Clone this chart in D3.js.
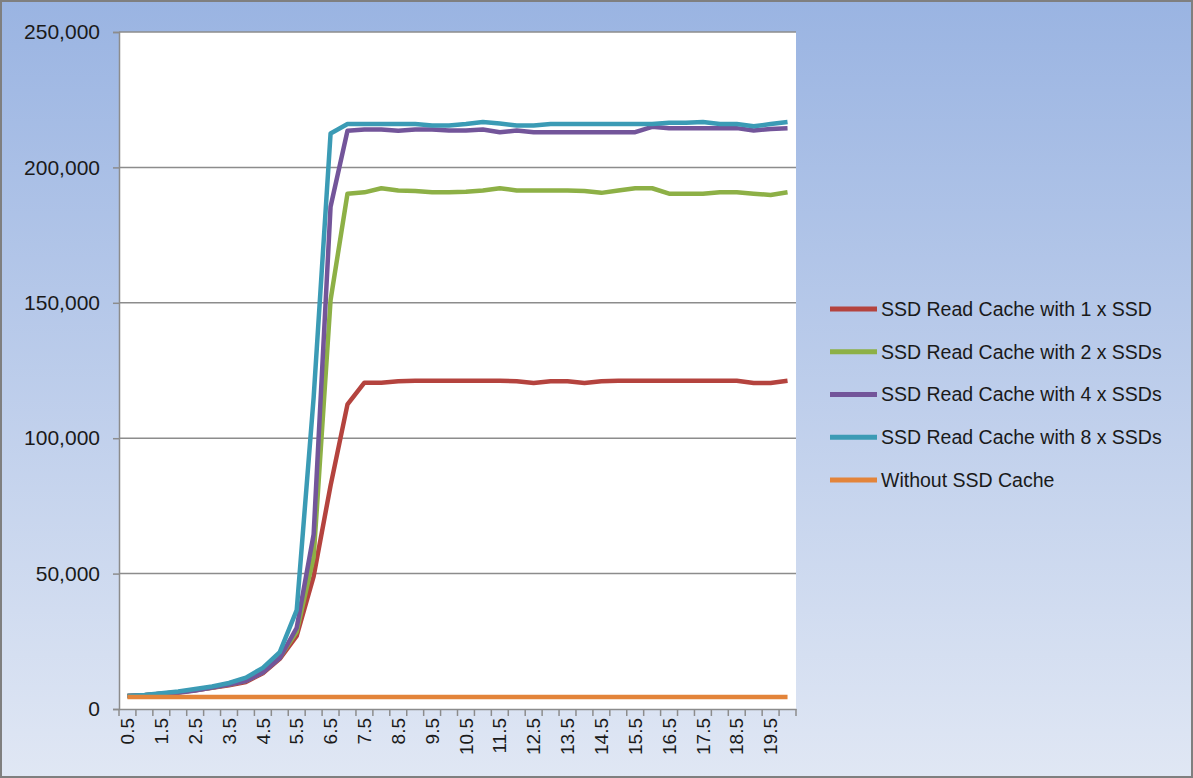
<!DOCTYPE html>
<html>
<head>
<meta charset="utf-8">
<script src="https://cdn.jsdelivr.net/npm/d3@7"></script>
<style>
  body { margin: 0; padding: 0; }
  svg { display: block; }
</style>
</head>
<body>
<div id="chart"></div>
<script>
// x categories (load step)
const categories = ['0.5','1','1.5','2','2.5','3','3.5','4','4.5','5',
  '5.5','6','6.5','7','7.5','8','8.5','9','9.5','10',
  '10.5','11','11.5','12','12.5','13','13.5','14','14.5','15',
  '15.5','16','16.5','17','17.5','18','18.5','19','19.5','20'];

const seriesNames = ['SSD Read Cache with 1 x SSD', 'SSD Read Cache with 2 x SSDs',
  'SSD Read Cache with 4 x SSDs', 'SSD Read Cache with 8 x SSDs', 'Without SSD Cache'];

const ssd1 = [4800,5100,5600,6200,6900,7800,8800,10000,13200,18500,
  27000,49000,82500,112500,120500,120500,121000,121200,121200,121200,
  121200,121200,121200,121000,120400,121000,121000,120400,121000,121200,
  121200,121200,121200,121200,121200,121200,121200,120400,120400,121200];

const ssd2 = [4800,5100,5600,6200,7000,7900,9000,10400,13600,19000,
  28500,56000,151000,190300,190800,192300,191500,191300,190800,190800,
  191000,191500,192300,191500,191500,191500,191500,191300,190600,191500,
  192300,192300,190300,190300,190300,190800,190800,190300,189800,190800];

const ssd4 = [4800,5100,5600,6000,6800,7900,9000,10300,13500,18800,
  30000,64500,185500,213500,214000,214000,213500,214000,214000,213600,
  213600,214000,213000,213600,213000,213000,213000,213000,213000,213000,
  213000,215000,214500,214500,214500,214500,214500,213600,214200,214500];

const ssd8 = [4800,5200,5800,6500,7400,8300,9600,11600,15200,21000,
  36500,115000,212500,216000,216000,216000,216000,216000,215500,215500,
  216000,216800,216200,215500,215500,216000,216000,216000,216000,216000,
  216000,216000,216500,216500,216800,216000,216000,215200,216000,216800];

const noCache = [4400,4400,4400,4400,4400,4400,4400,4400,4400,4400,
  4400,4400,4400,4400,4400,4400,4400,4400,4400,4400,
  4400,4400,4400,4400,4400,4400,4400,4400,4400,4400,
  4400,4400,4400,4400,4400,4400,4400,4400,4400,4400];

const yTicks = [0, 50000, 100000, 150000, 200000, 250000];

const colors = ['#b4433e', '#8db046', '#73559a', '#3b9bb5', '#e3843a'];

const width = 1193, height = 778;
const plot = { left: 119, right: 796, top: 32, bottom: 709 };

const svg = d3.select('#chart').append('svg')
    .attr('width', width)
    .attr('height', height);

const defs = svg.append('defs');
const grad = defs.append('linearGradient')
    .attr('id', 'bg')
    .attr('x1', 0).attr('y1', 0).attr('x2', 0).attr('y2', 1);
grad.append('stop').attr('offset', '0%').attr('stop-color', '#9ab4e2');
grad.append('stop').attr('offset', '100%').attr('stop-color', '#e0e7f4');

svg.append('rect')
    .attr('x', 1).attr('y', 1)
    .attr('width', width - 2).attr('height', height - 2)
    .attr('fill', 'url(#bg)')
    .attr('stroke', '#7f7f7f')
    .attr('stroke-width', 2);

svg.append('rect')
    .attr('x', plot.left).attr('y', plot.top)
    .attr('width', plot.right - plot.left)
    .attr('height', plot.bottom - plot.top)
    .attr('fill', '#ffffff');

const x = d3.scaleBand()
    .domain(categories)
    .range([plot.left, plot.right])
    .padding(0);

const y = d3.scaleLinear()
    .domain([0, 250000])
    .range([plot.bottom, plot.top]);

const font = '"Liberation Sans", Arial, sans-serif';

// gridlines
svg.append('g')
    .selectAll('line')
    .data(yTicks.filter(d => d > 0))
    .enter().append('line')
    .attr('x1', plot.left).attr('x2', plot.right)
    .attr('y1', d => y(d)).attr('y2', d => y(d))
    .attr('stroke', '#8c8c8c')
    .attr('stroke-width', 1.5);

// y axis
const yAxis = svg.append('g')
    .attr('transform', `translate(${plot.left},0)`)
    .call(d3.axisLeft(y).tickValues(yTicks).tickFormat(d3.format(',')).tickSize(6).tickPadding(13));
yAxis.select('.domain').attr('stroke', '#8c8c8c').attr('stroke-width', 1.5);
yAxis.selectAll('.tick line').attr('stroke', '#8c8c8c').attr('stroke-width', 1.5);
yAxis.selectAll('text')
    .style('font-family', font)
    .style('font-size', '21px')
    .attr('fill', '#1a1a1a');

// x axis, labels on every other category
const xAxis = svg.append('g')
    .attr('transform', `translate(0,${plot.bottom})`)
    .call(d3.axisBottom(x)
        .tickValues(categories.filter((d, i) => i % 2 === 0))
        .tickSize(0)
        .tickPadding(0));
xAxis.select('.domain').attr('stroke', '#8c8c8c').attr('stroke-width', 1.5);
xAxis.selectAll('text')
    .style('font-family', font)
    .style('font-size', '19px')
    .attr('fill', '#1a1a1a')
    .attr('text-anchor', 'end')
    .attr('transform', 'rotate(-90)')
    .attr('x', -9)
    .attr('y', 0)
    .attr('dy', '0.35em');

// tick marks between categories
const boundaries = categories.map(c => x(c)).concat([x(categories[categories.length - 1]) + x.bandwidth()]);
xAxis.append('g')
    .selectAll('line')
    .data(boundaries)
    .enter().append('line')
    .attr('x1', d => d).attr('x2', d => d)
    .attr('y1', 0).attr('y2', 7)
    .attr('stroke', '#8c8c8c')
    .attr('stroke-width', 1.5);

// lines
const allSeries = [ssd1, ssd2, ssd4, ssd8, noCache];
const line = d3.line()
    .x((d, i) => x(categories[i]) + x.bandwidth() / 2)
    .y(d => y(d));

svg.append('g')
    .selectAll('path')
    .data(allSeries)
    .enter().append('path')
    .attr('d', line)
    .attr('fill', 'none')
    .attr('stroke', (d, i) => colors[i])
    .attr('stroke-width', 4.5)
    .attr('stroke-linejoin', 'round');

// legend
const legend = svg.append('g')
    .attr('transform', 'translate(830,309)');
const rows = legend.selectAll('g')
    .data(seriesNames)
    .enter().append('g')
    .attr('transform', (d, i) => `translate(0,${i * 42.75})`);
rows.append('line')
    .attr('x1', 0).attr('x2', 47)
    .attr('y1', 0).attr('y2', 0)
    .attr('stroke', (d, i) => colors[i])
    .attr('stroke-width', 5);
rows.append('text')
    .attr('x', 51)
    .attr('dy', '0.35em')
    .style('font-family', font)
    .style('font-size', '19.5px')
    .attr('fill', '#1a1a1a')
    .text(d => d);
</script>
</body>
</html>
